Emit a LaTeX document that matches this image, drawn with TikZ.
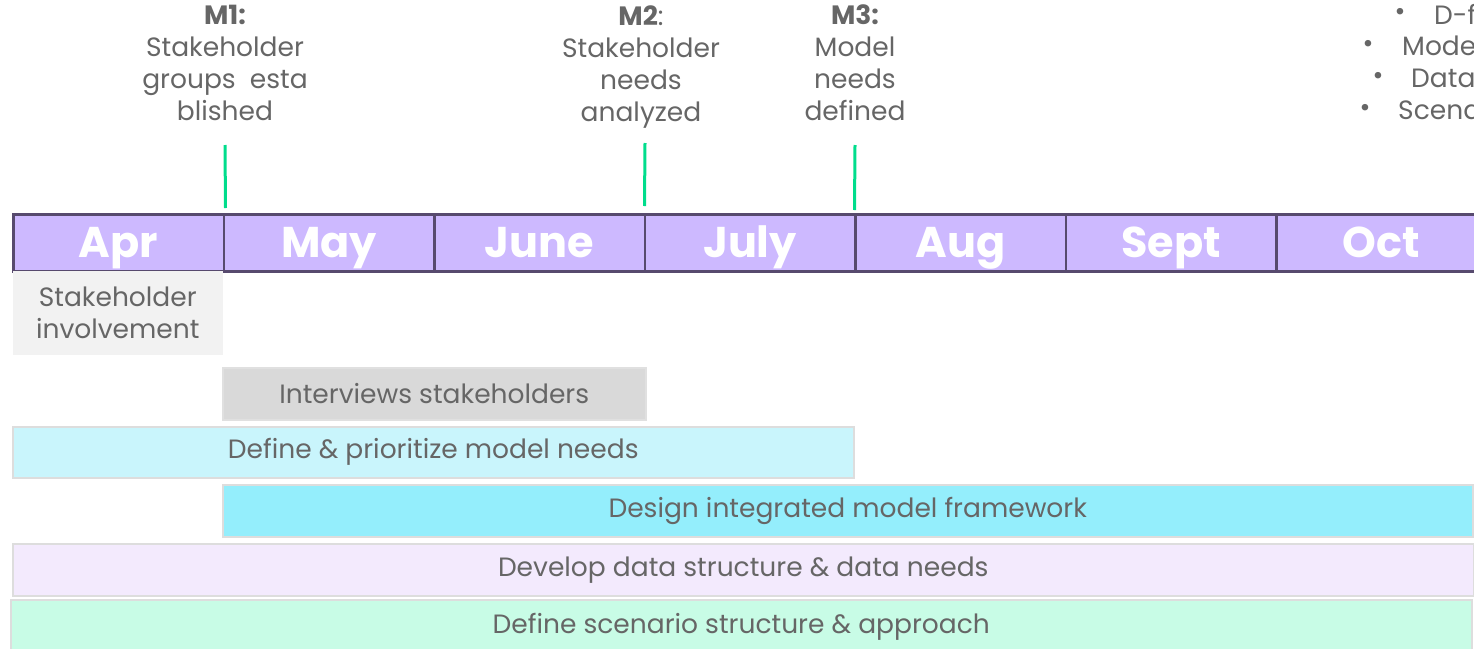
\documentclass[tikz,border=0pt]{standalone}
\usepackage{fontspec}
\setmainfont{Poppins}
\begin{document}
\begin{tikzpicture}[x=1pt,y=-1pt,
  txt/.style={text=txtgray,font=\fontsize{26.5}{32}\selectfont,align=center,inner sep=0pt},
  month/.style={draw=barpurple,line width=2.5pt,fill=monthfill,text=white,
    font=\fontsize{43}{45}\selectfont\bfseries,minimum width=210.5pt,minimum height=57pt,
    text height=30pt,text depth=0pt,anchor=north west,inner sep=0pt},
  bar/.style={draw=bargray,line width=1.5pt,anchor=north west,inner sep=0pt,
    text=txtgray,font=\fontsize{26.5}{32}\selectfont,align=center},
  mile/.style={draw=milegreen,line width=3pt}
]
\definecolor{txtgray}{HTML}{666666}
\definecolor{barpurple}{HTML}{574A6E}
\definecolor{monthfill}{HTML}{CDB9FF}
\definecolor{bargray}{HTML}{DDDDDD}
\definecolor{milegreen}{HTML}{00DD8C}
\definecolor{fillsi}{HTML}{F2F2F2}
\definecolor{filliv}{HTML}{D9D9D9}
\definecolor{filldp}{HTML}{C9F5FC}
\definecolor{filldm}{HTML}{94EEFC}
\definecolor{filldd}{HTML}{F3EAFD}
\definecolor{fillds}{HTML}{C8FCE6}
\useasboundingbox (0,0) rectangle (1474,648);
\begin{scope}
\clip (0,0) rectangle (1474,648);
% months
\node[month] (apr) at (12,213) {Apr};
\node[month] (may) at (222.5,213) {May};
\node[month] (jun) at (433,213) {June};
\node[month] (jul) at (643.5,213) {July};
\node[month] (aug) at (854,213) {Aug};
\node[month] (sep) at (1064.5,213) {Sept};
\node[month] (oct) at (1275,213) {Oct};
% milestones
\node[txt] (m1) at (225,63) {\textbf{M1:}\\Stakeholder\\groups\ \ esta\\blished};
\node[txt] (m2) at (641,67) {\textbf{M2}:\\Stakeholder\\needs\\analyzed};
\node[txt] (m3) at (855,63) {\textbf{M3:}\\Model\\needs\\defined};
\coordinate (m1a) at (225,145); \coordinate (m1b) at (225.5,208);
\coordinate (m2a) at (645,143); \coordinate (m2b) at (644.5,206);
\coordinate (m3a) at (855,145); \coordinate (m3b) at (854.5,210);
\draw[mile] (m1a) -- (m1b);
\draw[mile] (m2a) -- (m2b);
\draw[mile] (m3a) -- (m3b);
% top-right bullets
\node[txt] (d1) at (1400,14) {\textbullet};
\node[txt,anchor=west] (b1) at (1434,14) {D-f};
\node[txt] (d2) at (1368,46) {\textbullet};
\node[txt,anchor=west] (b2) at (1402,46) {Mode};
\node[txt] (d3) at (1378,78) {\textbullet};
\node[txt,anchor=west] (b3) at (1411,78) {Data};
\node[txt] (d4) at (1365,110) {\textbullet};
\node[txt,anchor=west] (b4) at (1398,110) {Scena};
% bars
\node[bar,draw=none,fill=fillsi,minimum width=210pt,minimum height=84pt] (si) at (12,270) {Stakeholder\\involvement};
\node[bar,fill=filliv,draw=white!88!black,minimum width=423pt,minimum height=52pt] (iv) at (222,367) {Interviews stakeholders};
\node[bar,fill=filldp,minimum width=841pt,minimum height=51pt] (dp) at (12,426) {Define \& prioritize model needs};
\node[bar,fill=filldm,minimum width=1250pt,minimum height=52pt] (dm) at (222,484) {Design integrated model framework};
\node[bar,fill=filldd,minimum width=1461pt,minimum height=52pt] (dd) at (12,543) {Develop data structure \& data needs};
\node[bar,fill=fillds,minimum width=1461pt,minimum height=55pt] (ds) at (10,599) {Define scenario structure \& approach};
\end{scope}
\end{tikzpicture}
\end{document}
